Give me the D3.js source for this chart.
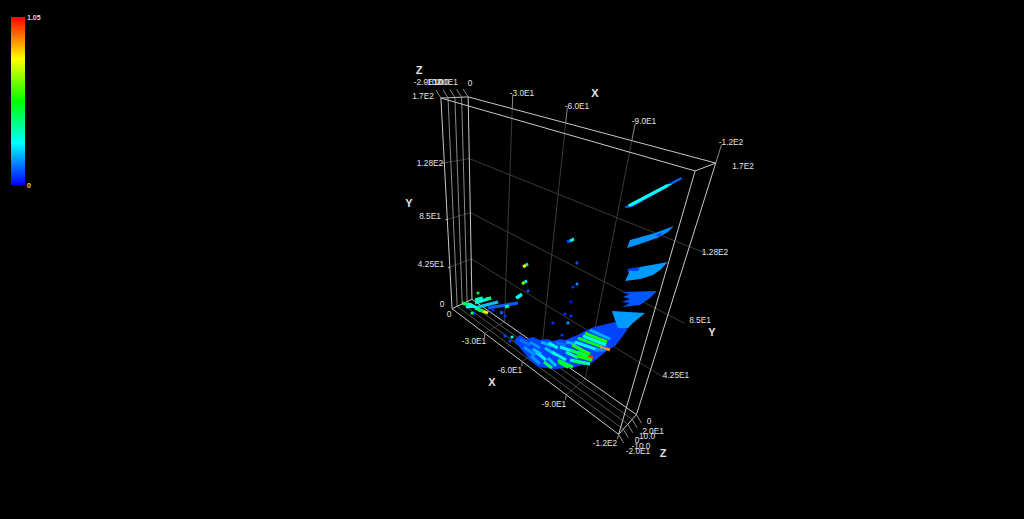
<!DOCTYPE html>
<html><head><meta charset="utf-8"><style>html,body{margin:0;background:#000;overflow:hidden}svg{display:block}text{font-family:"Liberation Sans",Arial,sans-serif}</style>
<script src="https://cdn.jsdelivr.net/npm/d3@7"></script></head><body><script>
const xTicks=[0,-30,-60,-90,-120];
const yTicks=[0,42.5,85,128,170];
const zTicks=[-20,-10,0,10,20];
const xTickText=["0","-3.0E1","-6.0E1","-9.0E1","-1.2E2"];
const yTickText=["0","4.25E1","8.5E1","1.28E2","1.7E2"];
const zTickText=["-2.0E1","-10.0","0","10.0","2.0E1"];
const legendText=["0","1.05"];
// surface patches: colour value, then outline as x,y pairs (all at z = 0)
const patchValues=[.1,.27,.15,.07,.16,.07,.09,.07,.16];
const patchOutlines=[
[-96.3,140.0,-99.0,143.5,-113.5,162.9,-114.0,162.2,-100.0,142.4,-97.5,140.1],
[-97.6,141.8,-106.2,153.1,-110.3,158.3,-111.3,158.7,-107.4,153.1,-99.5,142.7],
[-100.8,119.0,-101.3,124.1,-109.9,133.0,-115.6,140.0,-114.2,136.0,-111.0,130.9,-105.4,124.2],
[-110.1,131.5,-112.2,134.9,-111.9,132.5],
[-103.0,99.6,-103.8,105.4,-103.2,106.9,-107.5,111.8,-117.0,121.1,-115.1,115.1,-113.1,110.7,-108.7,105.0],
[-102.7,107.2,-107.5,111.8,-107.2,109.0,-103.7,106.6],
[-102.8,92.0,-116.1,102.9,-114.3,97.0,-111.2,89.8,-104.2,82.7,-107.1,87.8,-103.7,85.8,-106.7,90.3,-103.7,89.3,-106.2,93.3],
[-93.6,58.2,-102.7,70.3,-108.9,70.6,-105.2,53.7,-102.4,47.6,-96.5,31.0,-87.5,16.7,-76.0,2.2,-64.8,-7.9,-58.8,-6.8,-50.8,-2.1,-45.9,1.6,-50.2,10.8,-54.7,11.0,-59.5,17.6,-64.3,19.2,-68.7,24.4,-72.6,26.2,-76.6,32.0,-80.1,34.4,-83.2,40.1,-86.2,44.7,-88.5,49.4],
[-100.3,76.5,-114.0,86.6,-110.3,76.3,-108.8,71.3,-104.6,67.4,-102.5,71.6]];
// streaks: x0,y0,x1,y1 with colour value
const streakValues=[.12,.15,.15,.18,.2,.25,.15,.12,.18,.25,.3,.2,.3,.35,.45,.42,.45,.3,
.18,.55,.3,.5,.9,.25,.55,1,.45,.55,.15,
.22,.35,.3,.4,.2,.1,.35,.3,.1,.75,.45,.45,.3,.28,.05,.45,
.08,.3,.8,.3,.62,.25,.28,
.27,.48,.4,.2,.3];
const streakEnds=[
[-50.4,5.9,-57.9,8.0],[-57.7,10.9,-64.8,11.9],[-53.7,1.8,-61.9,1.8],[-65.1,18.0,-72.3,21.3],[-68.1,15.1,-75.5,15.7],[-62.4,5.4,-69.6,4.6],[-59.2,-2.1,-65.9,-3.5],[-74.5,26.3,-80.5,30.3],[-80.3,32.8,-85.9,36.5],[-77.2,25.1,-84.4,28.6],[-72.8,15.9,-81.8,17.4],[-70.7,7.8,-76.4,5.7],[-84.4,34.1,-89.7,34.8],[-81.1,24.3,-88.3,26.1],[-77.1,12.4,-86.4,15.5],[-68.5,1.3,-74.1,1.1],[-87.7,31.1,-95.6,33.7],[-84.1,19.8,-95.2,27.8],
[-91.9,54.2,-102.2,56.5],[-89.7,49.6,-101.1,53.0],[-88.9,46.4,-101.0,50.4],[-86.5,42.3,-99.3,47.1],[-98.4,46.1,-103.3,48.6],[-85.2,37.6,-97.8,42.9],[-83.9,33.6,-94.2,35.8],[-93.4,33.2,-96.1,34.2],[-83.2,28.3,-92.3,32.1],[-87.0,26.7,-95.8,32.1],[-96.3,41.4,-101.0,46.3],
[-17.0,18.9,-19.7,22.1],[-12.5,14.3,-18.8,21.4],[-12.5,11.1,-26.5,27.5],[-22.3,23.1,-26.5,27.5],[-15.2,9.1,-32.3,28.1],[-24.1,15.4,-47.3,39.4],[-37.9,27.8,-40.9,31.3],[-45.7,42.7,-49.7,49.4],[-34.1,19.7,-36.5,20.7],[-19.7,8.6,-24.1,10.2],[-12.4,5.7,-19.7,8.6],[0.2,0.9,-9.6,6.6],[-5.8,4.6,-15.2,8.0],[-3.7,-0.4,-11.5,7.1],[-9.5,-1.1,-12.3,-0.9],[-15.2,5.9,-19.7,8.6],
[-73.4,106.2,-74.9,107.7],[-74.9,107.7,-76.7,110.2],[-49.3,72.1,-51.1,75.0],[-51.1,75.0,-52.4,76.6],[-49.3,57.9,-51.2,61.0],[-51.2,61.0,-52.5,62.8],[-46.4,43.2,-49.1,48.0],
[-98,141.5,-110,157.5],[-77.5,11,-84,12.5],[-86,21,-93,26],[-60,6,-66,7],[-70,22,-76,23]];
// isolated points
const pointValues=[.45,.05,.05,.08,.05,.08,.05,.15,.02,.05,.05,.15,.05,.07,.07,.3,.07,.4];
const pointX=[-15.3,-28.3,-38.1,-53.6,-71.2,-79.9,-79.7,-81.5,-79.8,-77.4,-80.9,-79.8,-77.4,-38.7,-42.9,-44.3,-48.3,-9.5];
const pointY=[23.7,16.9,19.2,55.1,41.5,95.8,78.1,81.7,66.5,54.7,56.0,49.2,36.4,-1.0,-2.4,3.2,0.7,-2.2];

const W=1024,H=519,markZ=0;
const cornerFit=[[0,170,-20,441,98],[0,170,20,468,97],[0,0,-20,452,309],[0,0,20,472,299],[-120,170,-20,696,171],[-120,170,20,715,163],[-120,0,-20,618,434],[-120,0,20,637,415]];
function solve(A,b){const n=b.length;A=A.map((r,i)=>[...r,b[i]]);for(let i=0;i<n;i++){let m=i;for(let k=i+1;k<n;k++)if(Math.abs(A[k][i])>Math.abs(A[m][i]))m=k;[A[i],A[m]]=[A[m],A[i]];for(let k=0;k<n;k++)if(k!==i){const f=A[k][i]/A[i][i];for(let j=i;j<=n;j++)A[k][j]-=f*A[i][j];}}return A.map((r,i)=>r[n]/r[i]);}
const nx=d3.scaleLinear().domain([0,120]).range([0,1]),ny=d3.scaleLinear().domain([0,170]).range([0,1]),nz=d3.scaleLinear().domain([0,20]).range([0,1]);
const rows=[],rhs=[];cornerFit.forEach(([x,y,z,u,v])=>{const X=nx(x),Y=ny(y),Z=nz(z);rows.push([X,Y,Z,1,0,0,0,0,-u*X,-u*Y,-u*Z]);rhs.push(u);rows.push([0,0,0,0,X,Y,Z,1,-v*X,-v*Y,-v*Z]);rhs.push(v);});
const ATA=d3.range(11).map(i=>d3.range(11).map(j=>d3.sum(rows,r=>r[i]*r[j])));const ATb=d3.range(11).map(i=>d3.sum(rows,(r,k)=>r[i]*rhs[k]));
const p=solve(ATA,ATb);
function project(x,y,z){const X=nx(x),Y=ny(y),Z=nz(z),w=p[8]*X+p[9]*Y+p[10]*Z+1;return[(p[0]*X+p[1]*Y+p[2]*Z+p[3])/w,(p[4]*X+p[5]*Y+p[6]*Z+p[7])/w];}
const color=d3.scaleLinear().domain([0,.2625,.525,.7875,1.05]).range(["#0000ff","#00ffff","#00ff00","#ffff00","#ff0000"]);

const svg=d3.select("body").append("svg").attr("width",W).attr("height",H);
const defs=svg.append("defs");const g=defs.append("linearGradient").attr("id","lg").attr("x1",0).attr("x2",0).attr("y1",1).attr("y2",0);
color.domain().forEach(d=>g.append("stop").attr("offset",d/1.05).attr("stop-color",color(d)));
svg.append("rect").attr("x",11).attr("y",17).attr("width",14).attr("height",168).attr("fill","url(#lg)");
const L=(a,b,c,sw=1)=>svg.append("line").attr("x1",a[0]).attr("y1",a[1]).attr("x2",b[0]).attr("y2",b[1]).attr("stroke",c).attr("stroke-width",sw);
const D1="#3a3a3a",M="#8a8a8a",B="#c8c8c8";
xTicks.slice(1,4).forEach(x=>{L(project(x,0,20),project(x,170,20),D1);L(project(x,0,-20),project(x,0,20),D1);});
yTicks.slice(1,4).forEach(y=>{L(project(0,y,20),project(-127,y,20),D1);L(project(0,y,-20),project(0,y,20),D1);L(project(0,y,-20),project(0,y,-23),B);});
zTicks.slice(1,4).forEach(z=>{L(project(0,0,z),project(-120,0,z),"#555");L(project(0,0,z),project(0,170,z),M);});
[-20,20].forEach(z=>{L(project(0,0,z),project(-120,0,z),B);L(project(0,170,z),project(-120,170,z),B);L(project(0,0,z),project(0,170,z),B);L(project(-120,0,z),project(-120,170,z),B);});
L(project(0,170,-20),project(0,170,20),B);L(project(-120,170,-20),project(-120,170,20),B);L(project(-120,0,-20),project(-120,0,20),B);L(project(0,0,-20),project(0,0,20),B);
zTicks.forEach(z=>{const a=project(0,170,z);L(a,[a[0]-5,a[1]-8],M);const b=project(-120,0,z);L(b,[b[0]+5,b[1]+8.5],M);});
xTicks.slice(1).forEach(x=>{L(project(x,170,20),project(x,178,20),M);L(project(x,0,-20),project(x,-5,-20),M);});

patchOutlines.forEach((c,i)=>{const pts=[];for(let k=0;k<c.length;k+=2)pts.push(project(c[k],c[k+1],markZ).join(","));svg.append("polygon").attr("points",pts.join(" ")).attr("fill",color(patchValues[i]));});
streakEnds.forEach((e,i)=>L(project(e[0],e[1],markZ),project(e[2],e[3],markZ),color(streakValues[i]),3));
pointX.forEach((x,i)=>{const q=project(x,pointY[i],markZ);svg.append("circle").attr("cx",q[0]).attr("cy",q[1]).attr("r",1.6).attr("fill",color(pointValues[i]));});

const tg=svg.append("g").style("opacity",.995);
const T=(x,y,s,fs=8.3,w="normal")=>tg.append("text").attr("x",x).attr("y",y).attr("text-anchor","middle").attr("dominant-baseline","central").attr("fill","#e4e4e4").attr("font-size",fs).attr("font-weight",w).text(s);
const xTop=[[470,83],[522,93],[577,106],[644,121],[731,142]],xBot=[[449,314],[474,341],[510,370],[554,404],[605,443]];
const yLeft=[[442,304],[431,264],[430,216],[430,163],[423,96]],yRight=[[649,421],[676,375],[700,320],[715,252],[743,166]];
const zTop=[[426,82],[434,82],[441,82],[441,82],[447,82]],zBot=[[638,451],[641,446],[637,440],[647,436],[653,431]];
xTickText.forEach((s,i)=>{T(...xTop[i],s);T(...xBot[i],s);});
yTickText.forEach((s,i)=>{T(...yLeft[i],s);T(...yRight[i],s);});
zTickText.forEach((s,i)=>{T(...zTop[i],s);T(...zBot[i],s);});
[["Z",419,70],["Z",663,453],["X",595,93],["X",492,382],["Y",409,203],["Y",712,332]].forEach(d=>T(d[1],d[2],d[0],11,"bold"));
legendText.forEach((s,i)=>tg.append("text").attr("x",27).attr("y",i?17:185).attr("dominant-baseline","central").attr("fill","#ddd").attr("font-size",7).attr("font-weight","bold").text(s));
</script></body></html>
